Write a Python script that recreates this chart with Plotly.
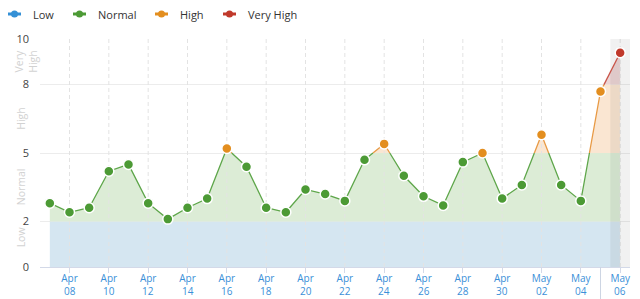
import pandas as pd
import plotly.graph_objects as go

# ---------------- data ----------------
dates = pd.date_range("2024-04-07", periods=30, freq="D")
values = [2.8, 2.4, 2.6, 4.2, 4.5, 2.8, 2.1, 2.6, 3.0, 5.2,
          4.4, 2.6, 2.4, 3.4, 3.2, 2.9, 4.7, 5.4, 4.0, 3.1,
          2.7, 4.6, 5.0, 3.0, 3.6, 5.8, 3.6, 2.9, 7.7, 9.4]
categories = ["Low", "Normal", "High", "Very High"]
band_edges = [0, 2, 5, 8, 10]
y_ticks = [0, 2, 5, 8, 10]
tick_dates = dates[1::2]

# ---------------- styles ----------------
marker_colors = ["#3490d6", "#4c9a35", "#e38e1f", "#c0392b"]
line_colors = ["#3490d6", "#5ea64a", "#e89a45", "#c9554a"]
fill_colors = ["#d5e6f1", "#dcecd6", "#fae6d2", "#ecd5d5"]
FONT = "Open Sans"


def band_of(v):
    for k in range(len(band_edges) - 1):
        if band_edges[k] <= v < band_edges[k + 1]:
            return k
    return len(band_edges) - 2


# dense polyline with crossing points at band edges (for clipping fills / line colours)
ts = [d.value for d in dates]
dx, dy = [ts[0]], [values[0]]
for i in range(len(values) - 1):
    v0, v1, t0, t1 = values[i], values[i + 1], ts[i], ts[i + 1]
    lv = [l for l in band_edges[1:-1] if min(v0, v1) < l < max(v0, v1)]
    lv.sort(key=lambda l: (l - v0) / (v1 - v0))
    for l in lv:
        f = (l - v0) / (v1 - v0)
        dx.append(int(round(t0 + f * (t1 - t0))))
        dy.append(l)
    dx.append(t1)
    dy.append(v1)
dense_x = pd.to_datetime(dx)

fig = go.Figure()

# band fills under the line
for k in range(len(categories)):
    lo, hi = band_edges[k], band_edges[k + 1]
    fig.add_trace(go.Scatter(x=dense_x, y=[lo] * len(dy), mode="lines",
                             line=dict(width=0), showlegend=False, hoverinfo="skip"))
    fig.add_trace(go.Scatter(x=dense_x, y=[min(max(v, lo), hi) for v in dy], mode="lines",
                             line=dict(width=0), fill="tonexty", fillcolor=fill_colors[k],
                             showlegend=False, hoverinfo="skip"))

# vertical dashed gridlines (drawn over fills, under line)
half = pd.Timedelta(hours=12)
gx, gy = [], []
for t in tick_dates:
    gx += [t, t, None]
    gy += [band_edges[0], band_edges[-1], None]
fig.add_trace(go.Scatter(x=gx, y=gy, mode="lines",
                         line=dict(color="#e3e3e3", width=1, dash="4px,3px"),
                         showlegend=False, hoverinfo="skip"))

# highlighted last day band
x0b, x1b = dates[-1] - half, dates[-1] + half
fig.add_trace(go.Scatter(x=[x0b, x1b, x1b, x0b, x0b],
                         y=[band_edges[0], band_edges[0], band_edges[-1], band_edges[-1], band_edges[0]],
                         mode="lines", line=dict(width=0), fill="toself",
                         fillcolor="rgba(0,0,0,0.055)", showlegend=False, hoverinfo="skip"))

# line segments coloured by band
for k in range(len(categories)):
    lo, hi = band_edges[k], band_edges[k + 1]
    sx, sy = [], []
    prev_in = False
    for j in range(len(dy) - 1):
        m = (dy[j] + dy[j + 1]) / 2
        inside = lo <= m < hi
        if inside:
            if not prev_in:
                sx.append(dense_x[j]); sy.append(dy[j])
            sx.append(dense_x[j + 1]); sy.append(dy[j + 1])
        elif prev_in:
            sx.append(None); sy.append(None)
        prev_in = inside
    fig.add_trace(go.Scatter(x=sx, y=sy, mode="lines",
                             line=dict(color=line_colors[k], width=1.3),
                             showlegend=False, hoverinfo="skip"))

# markers
fig.add_trace(go.Scatter(
    x=dates, y=values, mode="markers",
    marker=dict(size=10, color=[marker_colors[band_of(v)] for v in values],
                line=dict(color="white", width=1.5)),
    showlegend=False,
    hovertemplate="%{x|%b %d}: %{y}<extra></extra>"))

# ---------------- layout ----------------
L, R, T, B, W, H = 40, 10, 39, 32, 640, 299
pw, ph = W - L - R, H - T - B


def px2paper_x(px):
    return (px - L) / pw


def px2paper_y(py):
    return (H - B - py) / ph


shapes, annotations = [], []

# separator under the axis before the last day label
shapes.append(dict(type="line", xref="x", yref="paper", x0=dates[-2], x1=dates[-2],
                   y0=0, y1=px2paper_y(H), line=dict(color="#cdd5e3", width=1)))

# custom legend
leg_icon_x = [14.5, 79.5, 161.5, 229.5]
leg_y = 14
for k, name in enumerate(categories):
    cx = leg_icon_x[k]
    shapes.append(dict(type="line", xref="paper", yref="paper",
                       x0=px2paper_x(cx - 6.5), x1=px2paper_x(cx + 6.5),
                       y0=px2paper_y(leg_y), y1=px2paper_y(leg_y),
                       line=dict(color=marker_colors[k], width=3)))
    shapes.append(dict(type="circle", xref="paper", yref="paper",
                       x0=px2paper_x(cx - 3.5), x1=px2paper_x(cx + 3.5),
                       y0=px2paper_y(leg_y + 3.5), y1=px2paper_y(leg_y - 3.5),
                       fillcolor=marker_colors[k], line=dict(width=0)))
    annotations.append(dict(xref="paper", yref="paper", x=px2paper_x(cx + 16.5),
                            y=px2paper_y(leg_y), text=name, showarrow=False,
                            xanchor="left", yanchor="middle",
                            font=dict(family=FONT, size=11, color="#333333")))

# band labels on the y axis (rotated)
band_label_text = ["Low", "Normal", "High", "Very<br>High"]
band_label_y = [1.3, 3.5, 6.5, 9.0]
band_label_x = [21, 21, 21, 26]
for k in range(len(categories)):
    annotations.append(dict(xref="paper", yref="y", x=px2paper_x(band_label_x[k]),
                            y=band_label_y[k], text=band_label_text[k], showarrow=False,
                            textangle=-90, xanchor="center", yanchor="middle",
                            font=dict(family=FONT, size=10.5, color="#d2d2d2")))

# day numbers (second line of x tick labels)
for t in tick_dates:
    annotations.append(dict(xref="x", yref="paper", x=t, y=px2paper_y(291),
                            text=t.strftime("%d"), showarrow=False,
                            xanchor="center", yanchor="middle",
                            font=dict(family=FONT, size=10, color="#3a8fd8")))

fig.update_layout(
    width=W, height=H,
    margin=dict(l=L, r=R, t=T, b=B),
    paper_bgcolor="white", plot_bgcolor="white",
    showlegend=False,
    shapes=shapes, annotations=annotations,
    xaxis=dict(range=[dates[0] - half, dates[-1] + half], type="date",
               tickvals=list(tick_dates), ticktext=[t.strftime("%b") for t in tick_dates],
               showgrid=False, zeroline=False, showline=True, linecolor="#d3d9e8",
               ticks="outside", ticklen=5, tickcolor="#d3d9e8", ticklabelstandoff=-3,
               tickfont=dict(family=FONT, size=10, color="#3a8fd8")),
    yaxis=dict(range=[band_edges[0], band_edges[-1]], tickvals=y_ticks,
               showgrid=True, gridcolor="#ececec", zeroline=False, showline=False,
               ticks="", ticklabelstandoff=10,
               tickfont=dict(family=FONT, size=11, color="#444444")),
)

fig.write_html("out.html")
